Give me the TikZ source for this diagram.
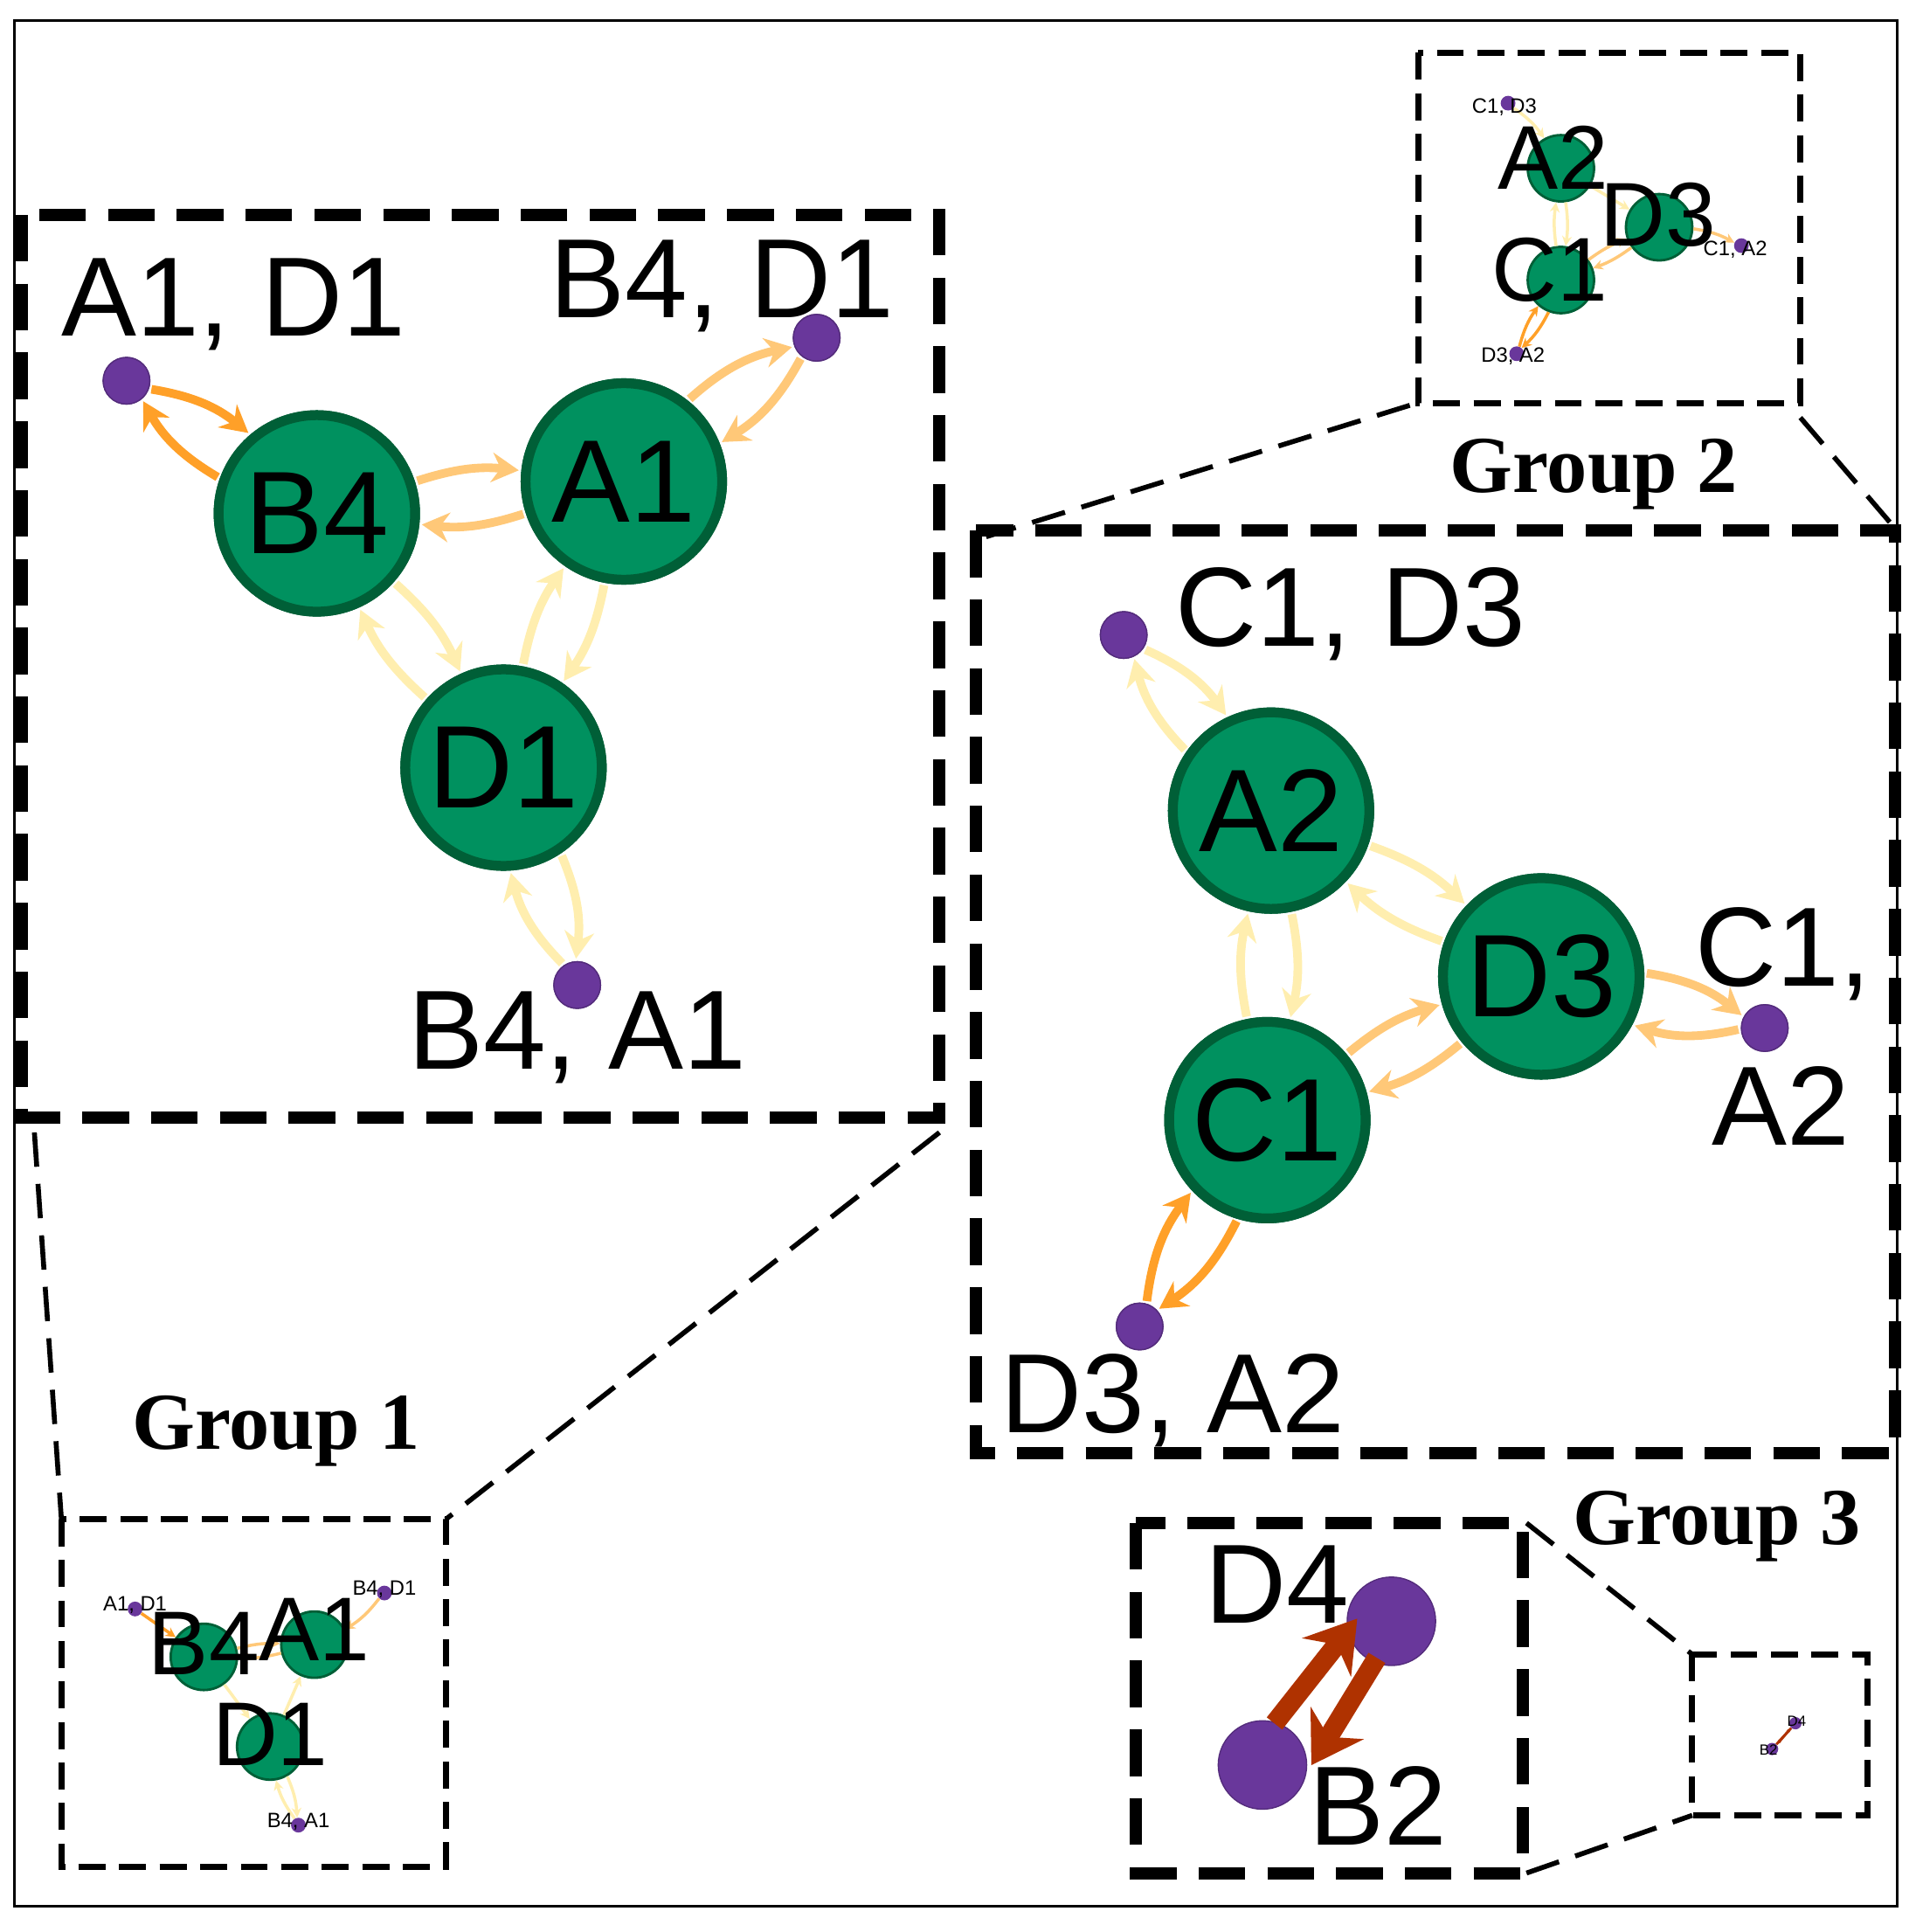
\documentclass[tikz,border=0pt]{standalone}
\usepackage{fontspec}
\setmainfont{Liberation Sans}
\newfontfamily\grpfont{Liberation Serif}
\usetikzlibrary{arrows.meta}
\definecolor{gfill}{RGB}{0,145,95}
\definecolor{gdraw}{RGB}{0,95,55}
\definecolor{pfill}{RGB}{105,55,155}
\definecolor{eA}{RGB}{255,160,40}
\definecolor{eB}{RGB}{255,200,120}
\definecolor{eC}{RGB}{255,238,175}
\definecolor{eR}{RGB}{175,50,0}
\begin{document}
\begin{tikzpicture}[x=1bp,y=-1bp,
  big/.style={circle,fill=gfill,draw=gdraw,line width=8bp,minimum size=160bp,inner sep=0pt,font=\fontsize{96}{96}\selectfont},
  sml/.style={circle,fill=gfill,draw=gdraw,line width=2bp,minimum size=54bp,inner sep=0pt},
  pur/.style={circle,fill=pfill,draw=pfill!80!black,line width=1bp,minimum size=38bp,inner sep=0pt},
  spur/.style={circle,fill=pfill,minimum size=10bp,inner sep=0pt},
  lab/.style={font=\fontsize{92}{92}\selectfont,inner sep=0pt},
  slab/.style={font=\fontsize{74}{74}\selectfont,inner sep=0pt},
  tlab/.style={font=\fontsize{17}{17}\selectfont,inner sep=0pt},
  grp/.style={font=\grpfont\bfseries\fontsize{66}{66}\selectfont,inner sep=0pt},
  bigbox/.style={draw,line width=10bp,dash pattern=on 38bp off 18bp},
  smbox/.style={draw,line width=5bp,dash pattern=on 22bp off 11bp},
  link/.style={draw,line width=4bp,dash pattern=on 28bp off 14bp},
  ea/.style={eA,line width=7bp,-{Stealth[length=22bp,width=24bp]},shorten >=2bp,shorten <=2bp},
  eb/.style={eB,line width=7bp,-{Stealth[length=22bp,width=24bp]},shorten >=2bp,shorten <=2bp},
  ec/.style={eC,line width=7bp,-{Stealth[length=22bp,width=24bp]},shorten >=2bp,shorten <=2bp},
  sea/.style={eA,line width=2.5bp,-{Stealth[length=8bp,width=8bp]}},
  seb/.style={eB,line width=2.5bp,-{Stealth[length=8bp,width=8bp]}},
  sec/.style={eC,line width=2.5bp,-{Stealth[length=8bp,width=8bp]}},
  er/.style={eR,line width=16bp,-{Stealth[length=40bp,width=50bp]}}
]
\useasboundingbox (0,0) rectangle (1560,1573);
\draw[line width=2bp] (12,17) rectangle (1545,1552);

% ---------- Group 1 big ----------
\node[big] (B4) at (258,418) {B4};
\node[big] (A1) at (508,392) {A1};
\node[big] (D1) at (410,625) {D1};
\node[pur] (p1) at (103,310) {};
\node[pur] (p2) at (665,275) {};
\node[pur] (p3) at (470,802) {};
\node[lab] (l1) at (190,248) {A1, D1};
\node[lab] (l2) at (588,233) {B4, D1};
\node[lab] (l3) at (470,845) {B4, A1};
\draw[ea] (p1) to[bend left=15] (B4);
\draw[ea] (B4) to[bend left=15] (p1);
\draw[eb] (B4) to[bend left=12] (A1);
\draw[eb] (A1) to[bend left=12] (B4);
\draw[ec] (B4) to[bend left=12] (D1);
\draw[ec] (D1) to[bend left=12] (B4);
\draw[ec] (D1) to[bend left=12] (A1);
\draw[ec] (A1) to[bend left=12] (D1);
\draw[eb] (A1) to[bend left=15] (p2);
\draw[eb] (p2) to[bend left=15] (A1);
\draw[ec] (D1) to[bend left=15] (p3);
\draw[ec] (p3) to[bend left=15] (D1);
\node[big] at (B4) {B4};
\node[big] at (A1) {A1};
\node[big] at (D1) {D1};
\node[pur] at (p1) {};
\node[pur] at (p2) {};
\node[pur] at (p3) {};
\draw[bigbox] (18,175) rectangle (765,910);

% ---------- Group 2 big ----------
\node[big] (A2) at (1035,660) {A2};
\node[big] (D3) at (1255,795) {D3};
\node[big] (C1) at (1032,912) {C1};
\node[pur] (q1) at (915,517) {};
\node[pur] (q2) at (1437,837) {};
\node[pur] (q3) at (928,1080) {};
\draw[ec] (q1) to[bend left=15] (A2);
\draw[ec] (A2) to[bend left=15] (q1);
\draw[ec] (A2) to[bend left=12] (D3);
\draw[ec] (D3) to[bend left=12] (A2);
\draw[ec] (A2) to[bend left=12] (C1);
\draw[ec] (C1) to[bend left=12] (A2);
\draw[eb] (C1) to[bend left=12] (D3);
\draw[eb] (D3) to[bend left=12] (C1);
\draw[eb] (D3) to[bend left=15] (q2);
\draw[eb] (q2) to[bend left=15] (D3);
\draw[ea] (C1) to[bend left=15] (q3);
\draw[ea] (q3) to[bend left=15] (C1);
\node[big] at (A2) {A2};
\node[big] at (D3) {D3};
\node[big] at (C1) {C1};
\node[pur] at (q1) {};
\node[pur] at (q2) {};
\node[pur] at (q3) {};
\node[lab] (m1) at (1100,500) {C1, D3};
\node[lab] (m2) at (1452,777) {C1,};
\node[lab] (m3) at (1450,900) {A2};
\node[lab] (m4) at (955,1140) {D3, A2};
\draw[bigbox] (795,432) rectangle (1543,1183);

% ---------- Group 3 big ----------
\node[pur,minimum size=72bp] (D4) at (1133,1320) {};
\node[pur,minimum size=72bp] (B2) at (1028,1437) {};
\draw[er] ([xshift=-16bp,yshift=8bp]B2.north east) -- ([xshift=-2bp,yshift=28bp]D4.south west);
\draw[er] ([xshift=14bp,yshift=-4bp]D4.south west) -- ([xshift=14bp,yshift=-26bp]B2.north east);
\node[lab] (n1) at (1040,1290) {D4};
\node[lab] (n2) at (1122,1470) {B2};
\draw[bigbox] (925,1240) rectangle (1240,1525);

% ---------- small boxes ----------
\node[spur,minimum size=12bp] (s1) at (110,1310) {};
\node[spur,minimum size=12bp] (s2) at (313,1297) {};
\node[spur,minimum size=12bp] (s3) at (243,1486) {};
\node[sml] (sB4) at (166,1349) {};
\node[sml] (sA1) at (256,1339) {};
\node[sml] (sD1) at (220,1422) {};
\draw[sea] (s1) -- (sB4);
\draw[seb] (sB4) to[bend left=8] (sA1);
\draw[seb] (sA1) to[bend left=8] (sB4);
\draw[sec] (sB4) -- (sD1);
\draw[sec] (sD1) -- (sA1);
\draw[seb] (s2) to[bend left=10] (sA1);
\draw[sec] (sD1) to[bend left=10] (s3);
\draw[sec] (s3) to[bend left=10] (sD1);
\node[tlab] at (110,1307) {A1, D1};
\node[tlab] at (313,1294) {B4, D1};
\node[tlab] at (243,1483) {B4, A1};
\node[slab] at (166,1338) {B4};
\node[slab] at (256,1327) {A1};
\node[slab] at (220,1412) {D1};
\draw[smbox] (50,1237) rectangle (363,1520);

\node[spur,minimum size=12bp] (t1) at (1228,84) {};
\node[spur,minimum size=12bp] (t2) at (1418,200) {};
\node[spur,minimum size=12bp] (t3) at (1235,288) {};
\node[sml] (sA2) at (1271,137) {};
\node[sml] (sD3) at (1351,185) {};
\node[sml] (sC1) at (1271,228) {};
\draw[sec] (t1) to[bend left=10] (sA2);
\draw[sec] (sA2) -- (sD3);
\draw[sec] (sC1) to[bend left=8] (sA2);
\draw[sec] (sA2) to[bend left=8] (sC1);
\draw[seb] (sC1) to[bend left=8] (sD3);
\draw[seb] (sD3) to[bend left=8] (sC1);
\draw[seb] (sD3) to[bend left=10] (t2);
\draw[sea] (sC1) to[bend left=10] (t3);
\draw[sea] (t3) to[bend left=10] (sC1);
\node[tlab] at (1225,87) {C1, D3};
\node[tlab] at (1413,203) {C1, A2};
\node[tlab] at (1232,290) {D3, A2};
\node[slab] at (1265,128) {A2};
\node[slab] at (1350,175) {D3};
\node[slab] at (1262,220) {C1};
\draw[smbox] (1155,43) rectangle (1466,328);

\node[spur] (u1) at (1462,1403) {};
\node[spur] (u2) at (1443,1424) {};
\draw[eR,line width=2bp,-{Stealth[length=4bp]}] (u2) -- (u1);
\draw[eR,line width=2bp,-{Stealth[length=4bp]}] ([xshift=3bp]u1) -- ([xshift=3bp]u2);
\node[tlab,font=\fontsize{12}{12}\selectfont] at (1463,1401) {D4};
\node[tlab,font=\fontsize{12}{12}\selectfont] at (1440,1425) {B2};
\draw[smbox] (1378,1347) rectangle (1521,1478);

% ---------- connecting lines ----------
\coordinate (c1) at (28,922);
\coordinate (c2) at (50,1237);
\coordinate (c3) at (765,922);
\coordinate (c4) at (363,1237);
\coordinate (c5) at (1148,330);
\coordinate (c6) at (803,437);
\coordinate (c7) at (1466,340);
\coordinate (c8) at (1543,430);
\coordinate (c9) at (1243,1240);
\coordinate (c10) at (1378,1347);
\coordinate (c11) at (1243,1525);
\coordinate (c12) at (1378,1478);
\draw[link] (c1) -- (c2);
\draw[link] (c3) -- (c4);
\draw[link] (c5) -- (c6);
\draw[link] (c7) -- (c8);
\draw[link] (c9) -- (c10);
\draw[link] (c11) -- (c12);

\node[grp] (g1) at (225,1165) {Group 1};
\node[grp] (g2) at (1298,386) {Group 2};
\node[grp] (g3) at (1398,1243) {Group 3};
\end{tikzpicture}
\end{document}
